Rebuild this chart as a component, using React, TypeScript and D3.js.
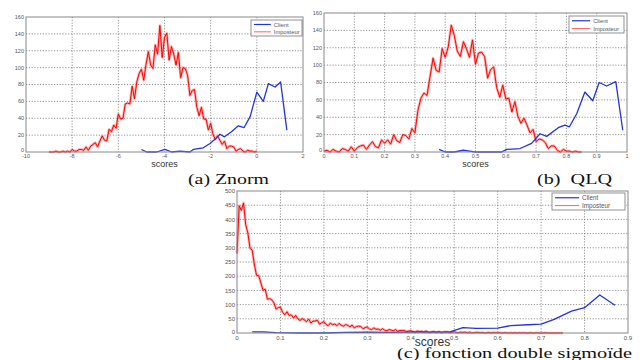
import React, { useEffect, useRef } from 'react'
import * as d3 from 'd3'

// ---- data ----

// (a) Znorm : impostor histogram, bins of 0.1 starting at -9
const znImpStart = -9
const znImpStep = 0.1
const znImpostor = [
  0, 0, 0, 1, 0, 0, 1, 0, 1, 0,
  3, 1, 1, 3, 3, 2, 6, 2, 7, 9,
  11, 6, 13, 19, 14, 13, 27, 24, 32, 28,
  45, 39, 40, 57, 58, 57, 78, 63, 83, 93,
  98, 85, 104, 119, 103, 99, 127, 116, 150, 112,
  136, 141, 109, 125, 116, 103, 118, 88, 100, 99,
  91, 67, 73, 74, 53, 43, 53, 39, 39, 26,
  34, 21, 15, 19, 14, 9, 13, 4, 7, 7,
  6, 1, 3, 4, 1, 0, 2, 1, 1, 0, 1,
]
const znClientX = [-5.0, -4.77, -4.34, -3.98, -3.69, -3.33, -2.9, -2.75, -2.32, -2.03, -1.74, -1.6, -1.4, -1.1, -0.8, -0.55, -0.29, 0, 0.28, 0.5, 0.79, 1.03, 1.3]
const znClientY = [3, 0, 0, 3, 0, 1, 0, 3, 5, 10, 17, 21, 18, 24, 31, 29, 42, 71, 60, 81, 77, 83, 26]

// (b) QLQ : impostor histogram, bins of 0.01 starting at 0
const qlqImpStart = 0
const qlqImpStep = 0.01
const qlqImpostor = [
  1, 2, 0, 3, 1, 0, 4, 3, 1, 6,
  1, 5, 7, 8, 3, 8, 12, 6, 5, 14,
  10, 14, 9, 20, 13, 11, 20, 19, 15, 27,
  22, 48, 62, 68, 65, 87, 108, 94, 92, 119,
  109, 121, 146, 134, 116, 110, 127, 119, 109, 129,
  101, 114, 115, 110, 85, 95, 98, 74, 63, 77,
  61, 62, 46, 58, 41, 33, 39, 31, 22, 26,
  12, 15, 14, 11, 4, 7, 7, 2, 0, 3,
  1, 1, 0, 1, 0, 0,
]
const qlqClientX = [0.38, 0.4, 0.43, 0.46, 0.48, 0.5, 0.54, 0.586, 0.603, 0.647, 0.685, 0.713, 0.735, 0.773, 0.795, 0.81, 0.834, 0.861, 0.887, 0.908, 0.933, 0.963, 0.986]
const qlqClientY = [3, 0, 0, 2, 1, 0, 0, 0, 3, 4, 10, 21, 18, 28, 31, 29, 44, 69, 59, 80, 76, 81, 25]

// (c) double sigmoid : impostor histogram, bins of 0.005 starting at 0
const dsImpStart = 0
const dsImpStep = 0.005
const dsImpostor = [
  280, 448, 432, 458, 381, 352, 298, 292, 240, 203,
  202, 176, 150, 154, 119, 121, 117, 106, 84, 90,
  91, 73, 64, 75, 62, 64, 53, 62, 50, 44,
  51, 46, 40, 49, 35, 42, 42, 45, 31, 36,
  40, 30, 26, 35, 29, 32, 26, 34, 27, 24,
  30, 27, 22, 28, 18, 23, 24, 23, 15, 19,
  21, 14, 12, 18, 13, 14, 10, 15, 10, 8,
  12, 10, 8, 12, 6, 9, 9, 9, 5, 7,
  8, 5, 3, 7, 5, 6, 3, 7, 3, 2,
  5, 4, 2, 5, 1, 3, 4, 4, 1, 3,
  4, 2, 1, 3, 2, 3, 1, 3, 1, 1,
  2, 2, 1, 2, 0, 1, 2, 0, 2, 1,
  1, 1, 0, 1, 1, 0, 1, 0, 1, 0,
  1, 0, 1, 0, 0, 1, 0, 0, 1, 0,
  0, 0, 1, 0, 0, 0, 0, 0, 0, 0, 0,
]
const dsClientX = [0.035, 0.06, 0.09, 0.15, 0.2, 0.25, 0.3, 0.35, 0.4, 0.45, 0.49, 0.52, 0.55, 0.6, 0.63, 0.67, 0.7, 0.73, 0.77, 0.8, 0.835, 0.87]
const dsClientY = [4, 4, 1, 0, 0, 2, 3, 2, 3, 3, 4, 19, 16, 17, 26, 29, 31, 48, 77, 89, 134, 98]

// ticks
const znXTicks = [-10, -8, -6, -4, -2, 0, 2]
const qlqXTicks = [0, 0.1, 0.2, 0.3, 0.4, 0.5, 0.6, 0.7, 0.8, 0.9, 1]
const dsXTicks = [0, 0.1, 0.2, 0.3, 0.4, 0.5, 0.6, 0.7, 0.8, 0.9]
const histYTicks = [0, 20, 40, 60, 80, 100, 120, 140, 160]
const dsYTicks = [0, 50, 100, 150, 200, 250, 300, 350, 400, 450, 500]

const legendNames = ['Client', 'Imposteur']

const BLUE = '#2233dd'
const RED = '#ff0000'
const SANS = '"Liberation Sans", Arial, sans-serif'
const SERIF = '"Liberation Serif", "Times New Roman", serif'

const toPoints = (start, step, ys) => ys.map((v, i) => [start + i * step, v])
const zipPoints = (xs, ys) => xs.map((v, i) => [v, ys[i]])

const panels = [
  {
    box: [26, 17, 303, 152],
    xDomain: [-10, 2], xTicks: znXTicks,
    yDomain: [0, 160], yTicks: histYTicks,
    impostor: toPoints(znImpStart, znImpStep, znImpostor),
    client: zipPoints(znClientX, znClientY),
    legend: [251, 20, 51, 16],
    tickFont: 5.5, labelFont: 9, labelY: 166.5,
  },
  {
    box: [324, 13, 627, 152],
    xDomain: [0, 1], xTicks: qlqXTicks,
    yDomain: [0, 160], yTicks: histYTicks,
    impostor: toPoints(qlqImpStart, qlqImpStep, qlqImpostor),
    client: zipPoints(qlqClientX, qlqClientY),
    legend: [569, 16, 55, 17],
    tickFont: 5.5, labelFont: 9, labelY: 166.5,
  },
  {
    box: [237, 191, 628, 333],
    xDomain: [0, 0.9], xTicks: dsXTicks,
    yDomain: [0, 500], yTicks: dsYTicks,
    impostor: toPoints(dsImpStart, dsImpStep, dsImpostor),
    client: zipPoints(dsClientX, dsClientY),
    legend: [552, 193, 73, 17],
    tickFont: 6, labelFont: 12, labelY: 345.5,
  },
]

function Panel({ cfg }) {
  const ref = useRef()

  useEffect(() => {
    const g = d3.select(ref.current)
    g.selectAll('*').remove()

    const [x0, y0, x1, y1] = cfg.box
    const x = d3.scaleLinear().domain(cfg.xDomain).range([x0, x1])
    const y = d3.scaleLinear().domain(cfg.yDomain).range([y1, y0])

    g.append('rect')
      .attr('x', x0).attr('y', y0)
      .attr('width', x1 - x0).attr('height', y1 - y0)
      .attr('fill', '#fff')

    // dotted grid
    g.append('g').selectAll('line')
      .data(cfg.xTicks.slice(1, -1))
      .join('line')
      .attr('x1', d => x(d)).attr('x2', d => x(d))
      .attr('y1', y0).attr('y2', y1)
      .attr('stroke', '#777').attr('stroke-width', 0.8)
      .attr('stroke-dasharray', '1.2,1.6')

    g.append('g').selectAll('line')
      .data(cfg.yTicks.slice(1, -1))
      .join('line')
      .attr('x1', x0).attr('x2', x1)
      .attr('y1', d => y(d)).attr('y2', d => y(d))
      .attr('stroke', '#777').attr('stroke-width', 0.8)
      .attr('stroke-dasharray', '1.2,1.6')

    // tick labels
    g.append('g').selectAll('text')
      .data(cfg.xTicks)
      .join('text')
      .attr('x', d => x(d)).attr('y', y1 + cfg.tickFont + 0.8)
      .attr('text-anchor', 'middle')
      .style('font-family', SANS).style('font-size', cfg.tickFont + 'px')
      .style('fill', '#555')
      .text(d => d3.format('~g')(d).replace('−', '-'))

    // the zero label sits a touch above the corner, as in the figure
    g.append('g').selectAll('text')
      .data(cfg.yTicks)
      .join('text')
      .attr('x', x0 - 2).attr('y', d => y(d) - (d === 0 ? 1.5 : 0))
      .attr('dy', '0.35em')
      .attr('text-anchor', 'end')
      .style('font-family', SANS).style('font-size', cfg.tickFont + 'px')
      .style('fill', '#555')
      .text(d => d)

    // series
    const line = d3.line().x(d => x(d[0])).y(d => y(d[1]))

    g.append('path')
      .attr('d', line(cfg.impostor))
      .attr('fill', 'none').attr('stroke', '#ff6060')
      .attr('stroke-opacity', 0.5).attr('stroke-width', 2.6)
      .attr('stroke-linejoin', 'round')
    g.append('path')
      .attr('d', line(cfg.impostor))
      .attr('fill', 'none').attr('stroke', RED)
      .attr('stroke-width', 1)

    g.append('path')
      .attr('d', line(cfg.client))
      .attr('fill', 'none').attr('stroke', BLUE)
      .attr('stroke-width', 1.3).attr('stroke-linejoin', 'round')

    // frame
    g.append('rect')
      .attr('x', x0).attr('y', y0)
      .attr('width', x1 - x0).attr('height', y1 - y0)
      .attr('fill', 'none').attr('stroke', '#888').attr('stroke-width', 1)

    // legend
    const [lx, ly, lw, lh] = cfg.legend
    const lg = g.append('g')
    lg.append('rect')
      .attr('x', lx).attr('y', ly).attr('width', lw).attr('height', lh)
      .attr('fill', '#fff').attr('stroke', '#777').attr('stroke-width', 0.8)
    const sample = lw * 0.33
    legendNames.forEach((name, i) => {
      const yy = ly + lh * (i === 0 ? 0.28 : 0.74)
      lg.append('line')
        .attr('x1', lx + 3).attr('x2', lx + 3 + sample)
        .attr('y1', yy).attr('y2', yy)
        .attr('stroke', i === 0 ? BLUE : '#ff6060')
        .attr('stroke-width', i === 0 ? 1.2 : 1)
      lg.append('text')
        .attr('x', lx + 6 + sample).attr('y', yy).attr('dy', '0.35em')
        .style('font-family', SANS).style('font-size', (cfg.tickFont + 0.3) + 'px')
        .style('fill', '#555')
        .text(name)
    })

    g.append('text')
      .attr('x', (x0 + x1) / 2).attr('y', cfg.labelY)
      .attr('text-anchor', 'middle')
      .style('font-family', SANS).style('font-size', cfg.labelFont + 'px')
      .style('fill', '#333')
      .text('scores')
  }, [cfg])

  return <g ref={ref} />
}

export default function App() {
  const cap = { fontFamily: SERIF, fontSize: 15.5, fill: '#111', whiteSpace: 'pre' as const }
  return (
    <svg width={640} height={360} style={{ position: 'absolute', left: 0, top: 0, background: '#fff' }}>
      {panels.map((p, i) => <Panel key={i} cfg={p} />)}
      <text x={188} y={183.5} textLength={81} lengthAdjust="spacingAndGlyphs" style={cap}>(a) Znorm</text>
      <text x={537} y={183.5} textLength={75} lengthAdjust="spacingAndGlyphs" style={cap}>(b)  QLQ</text>
      <text x={397} y={357.5} textLength={235} lengthAdjust="spacingAndGlyphs" style={cap}>(c) fonction double sigmoïde</text>
    </svg>
  )
}
